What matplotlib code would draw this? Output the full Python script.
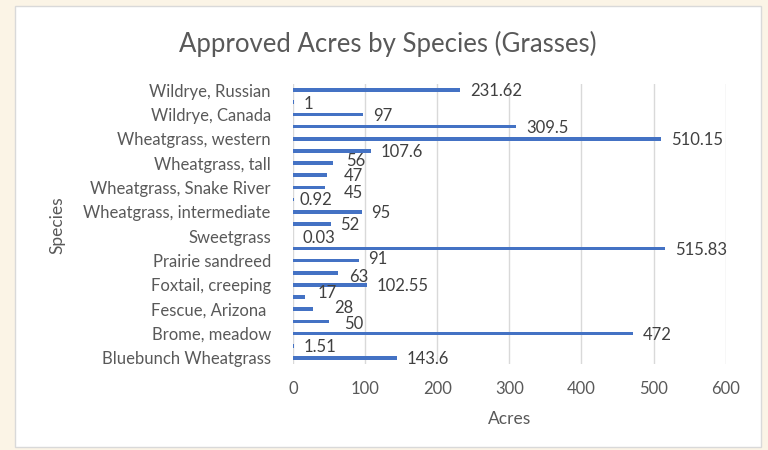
import matplotlib
matplotlib.use("Agg")
import matplotlib.pyplot as plt
from matplotlib.patches import Rectangle

# Data (bottom to top)
species = [
    "Bluebunch Wheatgrass", "Bluestem, big", "Brome, meadow", "Brome, smooth",
    "Fescue, Arizona ", "Fescue, hard", "Foxtail, creeping", "Needlegrass, green",
    "Prairie sandreed", "Ryegrass, perennial", "Sweetgrass", "Switchgrass",
    "Wheatgrass, intermediate", "Wheatgrass, pubescent", "Wheatgrass, Snake River",
    "Wheatgrass, streambank", "Wheatgrass, tall", "Wheatgrass, thickspike",
    "Wheatgrass, western", "Wildrye, basin", "Wildrye, Canada", "Wildrye, Dahurian",
    "Wildrye, Russian",
]
acres = [143.6, 1.51, 472, 50, 28, 17, 102.55, 63, 91, 515.83, 0.03, 52, 95,
         0.92, 45, 47, 56, 107.6, 510.15, 309.5, 97, 1, 231.62]
value_labels = ["143.6", "1.51", "472", "50", "28", "17", "102.55", "63", "91",
                "515.83", "0.03", "52", "95", "0.92", "45", "47", "56", "107.6",
                "510.15", "309.5", "97", "1", "231.62"]
xticks = [0, 100, 200, 300, 400, 500, 600]

plt.rcParams['font.family'] = ['Lato', 'DejaVu Sans']

fig = plt.figure(figsize=(7.68, 4.5), dpi=100)
fig.patch.set_facecolor("#FBF4E6")
fig.patches.append(Rectangle((15/768, 1 - 447/450), (761-15)/768, (447-6)/450,
                             transform=fig.transFigure, facecolor="white",
                             edgecolor="#D9D9D9", linewidth=1.0, zorder=-5))

ax = fig.add_axes([293/768, 1 - 364/450, (725.7-293)/768, (364-84)/450])
ax.set_zorder(2)
ax.set_facecolor("none")
ypos = list(range(len(species)))
ax.barh(ypos, acres, height=0.3, color="#4472C4", zorder=3)

ax.set_xlim(0, 600)
ax.set_ylim(-0.5, len(species) - 0.5)
ax.set_xticks(xticks)
ax.set_xticklabels([str(t) for t in xticks])
ax.set_yticks(ypos[::2])
ax.set_yticklabels(species[::2])
ax.tick_params(axis='y', length=0, pad=16, labelsize=12, labelcolor="#595959")
ax.tick_params(axis='x', length=0, pad=12, labelsize=12, labelcolor="#595959")
for s in ax.spines.values():
    s.set_visible(False)
ax.grid(axis='x', color="#D9D9D9", linewidth=1.0, zorder=0)
ax.set_axisbelow(True)

# small label nudges (points) to separate crowded labels, as in the reference
nudge = {14: (13, -4), 15: (12, -0.5), 16: (9, 1.5), 13: (4, 0),
         3: (11, -2), 4: (15, 1), 5: (9, 3), 7: (8, -3), 8: (7, 1)}
for i, (y, v, lab) in enumerate(zip(ypos, acres, value_labels)):
    dx, dy = nudge.get(i, (7, -1))
    ax.annotate(lab, (v, y), xytext=(dx, dy), textcoords="offset points",
                ha="left", va="center", fontsize=12, color="#404040", zorder=4)

ax.set_xlabel("Acres", fontsize=12.5, color="#595959", labelpad=10)
fig.text(57/768, 1 - 225/450, "Species", rotation=90, fontsize=12.5,
         color="#595959", ha="center", va="center")
fig.text(388/768, 1 - 44/450, "Approved Acres by Species (Grasses)",
         fontsize=18.5, color="#595959", ha="center", va="center")

fig.savefig("out.png", dpi=100, facecolor=fig.get_facecolor())
